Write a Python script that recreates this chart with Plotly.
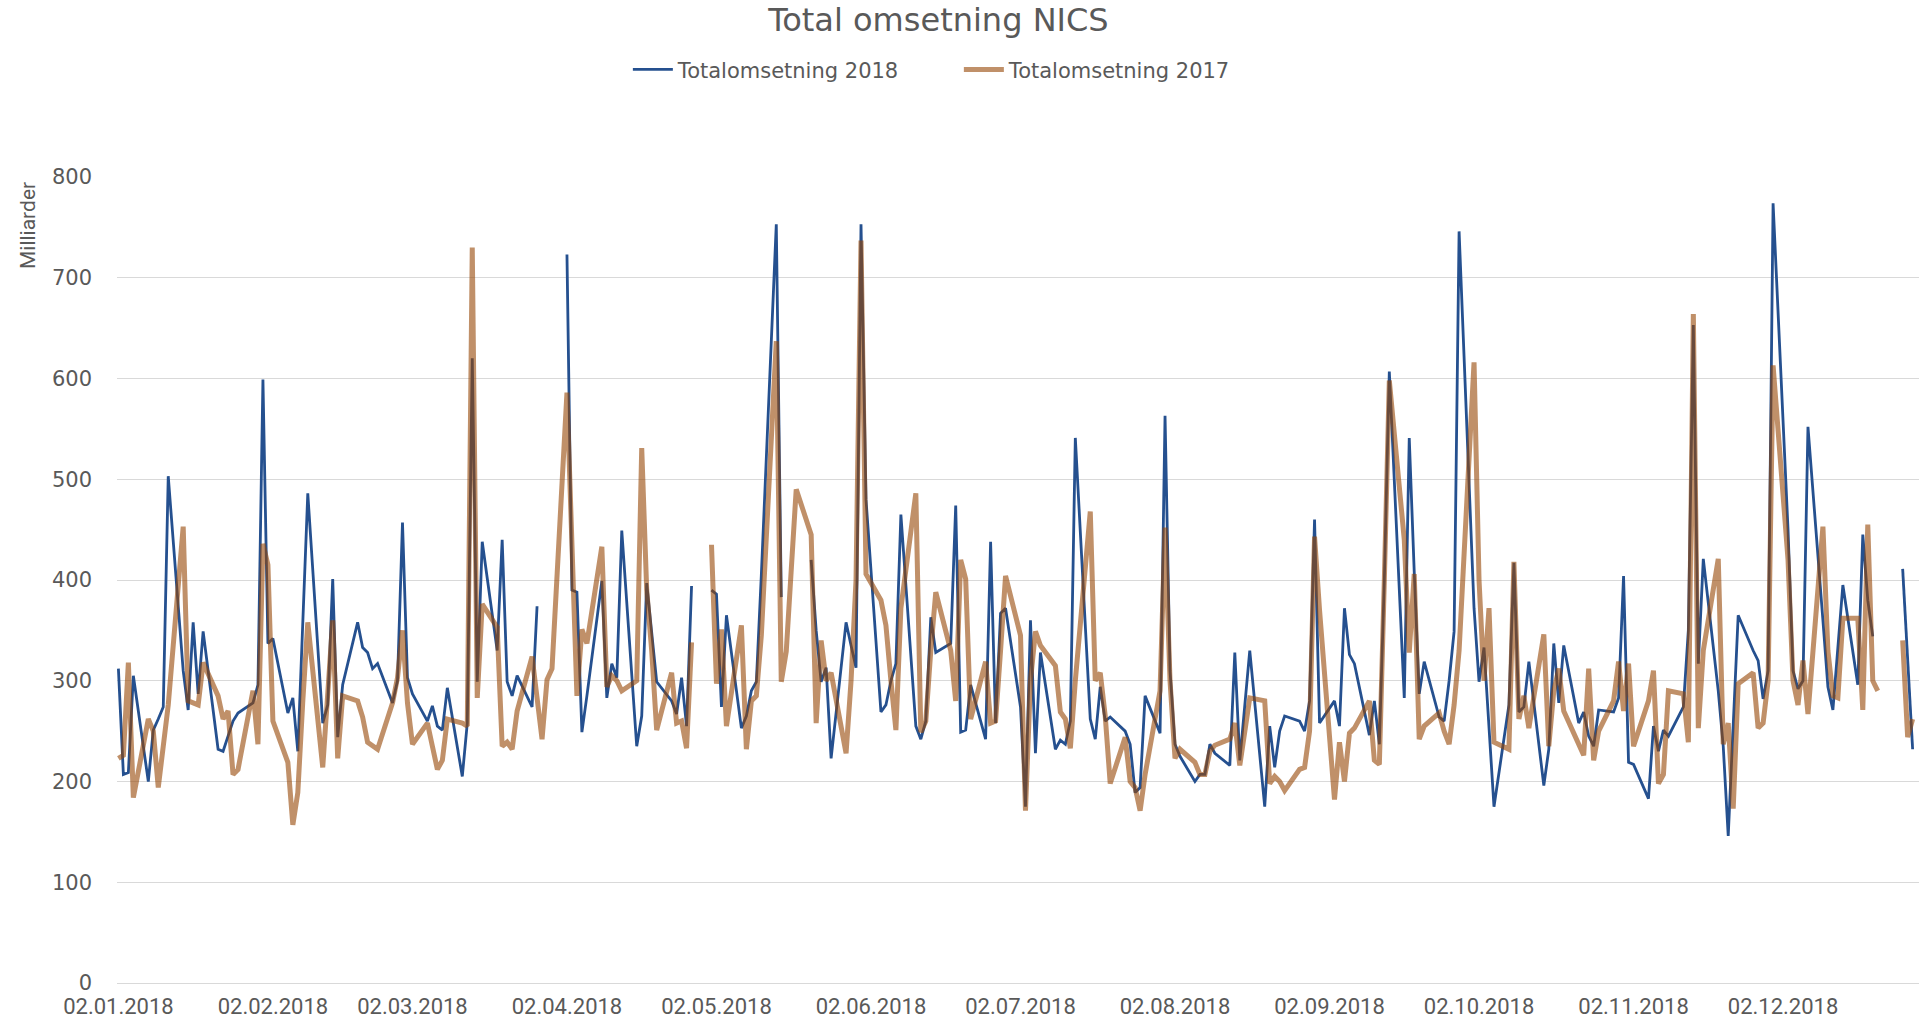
import pandas as pd
import plotly.graph_objects as go

# ---- data (weekday rows, 2018 calendar; None = no data) ----
b_jan = [312, 207, 209, 305, 200, 251, 262, 274, 503, 310, 271, 358, 287, 349, 232, 230, 245, 260, 268, 278, 296, 599]
b_feb = [337, 342, 268, 283, 230, 358, 486, 258, 276, 401, 244, 296, 358, 333, 328, 312, 317, 278, 300, 457]
b_mar = [303, 287, 260, 275, 255, 251, 293, 205, 258, 620, 299, 438, 330, 440, 299, 285, 305, 274, 374, None, None, None]
b_apr = [723, 390, 388, 249, 285, 399, 283, 317, 303, 449, 235, 265, 397, 350, 299, 280, 267, 303, 255, 394, None]
b_may = [390, 386, 274, 365, 253, 265, 290, 299, 405, 753, 383, None, None, None, 420, 350, 299, 313, 223, 358, 335, 313, 753]
b_jun = [480, 269, 276, 300, 317, 465, 255, 242, 260, 363, 328, 337, 474, 249, 251, 296, 242, 438, 258, 367, 372]
b_jul = [274, 175, 360, 228, 328, 232, 241, 237, 260, 541, 262, 242, 294, 260, 264, 250, 237, 189, 194, 285, 248, 563]
b_aug = [310, 237, 225, 200, 207, 207, 237, 228, 216, 328, 221, 275, 330, 175, 255, 214, 250, 265, 260, 250, 280, 460, 258]
b_sep = [280, 255, 372, 326, 317, 246, 280, 237, 400, 607, 283, 541, 408, 287, 319, 264, 260, 300, 349, 746]
b_oct = [372, 299, 333, 250, 175, 276, 417, 269, 274, 319, 196, 232, 337, 278, 335, 258, 269, 245, 235, 271, 269, 283, 404]
b_nov = [219, 217, 183, 255, 230, 251, 245, 274, 350, 653, 317, 421, 290, 235, 146, 260, 365, 330, 320, 282, 310, 774]
b_dec = [450, 310, 292, 300, 552, 360, 294, 271, 330, 395, 296, 445, 380, 344, None, None, None, 411, 320, 232, None]

o_jan = [223, 226, 318, 184, 262, 250, 194, 235, 276, 453, 280, 278, 276, 318, 285, 262, 270, 207, 212, 290, 237, 436]
o_feb = [415, 260, 219, 157, 189, 280, 358, 214, 285, 360, 223, 285, 280, 264, 239, 235, 232, 278, 303, 350]
o_mar = [278, 237, 258, 235, 212, 221, 262, 258, 255, 730, 283, 376, 353, 235, 239, 232, 270, 324, 280, 242, 301, 312]
o_apr = [586, 430, 285, 351, 337, 433, 294, 305, 300, 290, 300, 531, 390, 330, 251, 308, 258, 260, 233, 338, None]
o_may = [435, 297, 351, 255, 355, 232, 280, 285, 345, 637, 299, 329, 410, 490, 445, 258, 340, 300, 308, 228, 300, 400, 737]
o_jun = [406, 380, 355, 300, 251, 372, 486, 249, 260, 330, 388, 330, 280, 420, 401, 262, 319, 258, 260, 330, 404]
o_jul = [345, 171, 300, 349, 335, 315, 269, 262, 233, 300, 468, 300, 308, 265, 198, 244, 200, 194, 171, 207, 290, 452]
o_aug = [300, 223, 232, 219, 207, 207, 230, 236, 242, 258, 216, 250, 283, 280, 198, 205, 200, 191, 212, 214, 250, 443, 370]
o_sep = [182, 239, 200, 248, 253, 280, 221, 217, 400, 598, 440, 328, 406, 242, 255, 268, 250, 237, 276, 330]
o_oct = [616, 400, 300, 372, 239, 232, 418, 262, 285, 253, 346, 235, 290, 312, 270, 239, 226, 312, 221, 250, 280, 319, 270]
o_nov = [317, 235, 280, 310, 198, 207, 290, 287, 239, 664, 253, 330, 421, 237, 258, 173, 297, 308, 253, 258, 300, 613]
o_dec = [420, 300, 276, 320, 267, 453, 330, 285, 283, 362, 362, 271, 455, 300, 290, None, None, 340, 244, 262, None]

tick_dates = ["2018-%02d-02" % m for m in range(1, 13)]
tick_labels = ["02.%02d.2018" % m for m in range(1, 13)]
y_ticks = [0, 100, 200, 300, 400, 500, 600, 700, 800]

series_2018 = b_jan + b_feb + b_mar + b_apr + b_may + b_jun + b_jul + b_aug + b_sep + b_oct + b_nov + b_dec
series_2017 = o_jan + o_feb + o_mar + o_apr + o_may + o_jun + o_jul + o_aug + o_sep + o_oct + o_nov + o_dec
dates = pd.bdate_range("2018-01-02", "2018-12-31")

fig = go.Figure()
fig.add_trace(go.Scatter(x=dates, y=series_2018, mode="lines", name="Totalomsetning 2018",
                         line=dict(color="#25508f", width=2.8)))
fig.add_trace(go.Scatter(x=dates, y=series_2017, mode="lines", name="Totalomsetning 2017",
                         line=dict(color="rgba(150,70,5,0.6)", width=5)))

grey = "#595959"
fig.update_layout(
    width=1919, height=1019, autosize=False,
    margin=dict(l=117, r=0, t=177, b=36),
    paper_bgcolor="white", plot_bgcolor="white",
    title=dict(text="Total omsetning NICS", x=0.489, xref="container", xanchor="center",
               y=0.981, yref="container", yanchor="middle",
               font=dict(family="DejaVu Sans", size=32, color=grey)),
    legend=dict(orientation="h", x=0.2835, xanchor="left", y=1.133, yanchor="middle",
                font=dict(family="DejaVu Sans", size=21, color=grey), itemwidth=40,
                entrywidth=276, entrywidthmode="pixels", traceorder="normal"),
    xaxis=dict(type="date", range=["2018-01-01 17:15", "2018-12-29 06:40"],
               tickmode="array", tickvals=tick_dates, ticktext=tick_labels,
               showgrid=False, showline=True, linecolor="#d9d9d9", linewidth=1,
               ticks="", ticklabelstandoff=4,
               tickfont=dict(family="Liberation Sans Narrow, Roboto, sans-serif", size=22, color=grey)),
    yaxis=dict(range=[0, 800], tickmode="array", tickvals=y_ticks,
               showgrid=True, gridcolor="#d9d9d9", gridwidth=1, zeroline=False,
               ticks="", ticklabelstandoff=24,
               tickfont=dict(family="DejaVu Sans", size=21, color=grey)),
    annotations=[dict(text="Milliarder", xref="paper", yref="paper", x=-0.049, y=0.94,
                      xanchor="center", yanchor="middle", textangle=-90, showarrow=False,
                      font=dict(family="Liberation Sans Narrow, Roboto, sans-serif", size=21, color=grey))],
)

fig.write_html("out.html", config={"displayModeBar": False},
               post_script="document.body.style.margin='0px';document.body.style.overflow='hidden';")
